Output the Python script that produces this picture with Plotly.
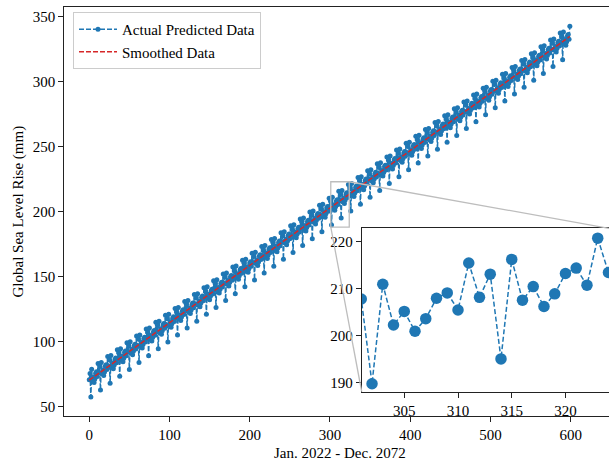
import numpy as np
import plotly.graph_objects as go

# ---------------- data ----------------
x_title = "Jan. 2022 - Dec. 2072"
y_title = "Global Sea Level Rise (mm)"
series_names = ["Actual Predicted Data", "Smoothed Data"]

# yearly mean sea level rise (mm), one value per year, 50 years
year_level = [72.6, 77.9, 83.2, 88.5, 93.8, 99.1, 104.4, 109.7, 115.0, 120.3,
              125.6, 130.9, 136.2, 141.5, 146.8, 152.1, 157.4, 162.7, 168.0, 173.3,
              178.6, 183.9, 189.2, 194.5, 199.8, 205.1, 210.4, 215.7, 221.0, 226.3,
              231.6, 236.9, 242.2, 247.5, 252.8, 258.1, 263.4, 268.7, 274.0, 279.3,
              284.6, 289.9, 295.2, 300.5, 305.8, 311.1, 316.4, 321.7, 327.0, 332.3]
# monthly deviation from the yearly mean (Jan..Dec)
month_offset = [-2.25, 2.7, -15.4, 5.85, -2.85, 0.05, -4.2, -1.5, 2.85, 4.0, 0.35, 10.4]

actual = [lvl + off for lvl in year_level for off in month_offset]
months = list(range(len(actual)))
coef = np.polyfit(months, actual, 1)
smoothed = list(np.polyval(coef, months))

main_xticks = [0, 100, 200, 300, 400, 500, 600]
main_yticks = [50, 100, 150, 200, 250, 300, 350]
inset_xticks = [305, 310, 315, 320]
inset_yticks = [190, 200, 210, 220]

# ---------------- layout geometry ----------------
W, H = 609, 463
FONT = "Liberation Serif"
FS = 15
BLUE = "#1f77b4"
RED = "#d62728"
GRAY = "#bdbdbd"

def px_x(p):
    return p / W

def px_y(p):
    return 1 - p / H

main_dx = [px_x(64.3), 1.0]
main_dy = [px_y(416.3), px_y(6.7)]
main_xr = [-31.1, 647.8]
main_yr = [42.3, 357.7]

ins_dx = [px_x(361.7), 1.0]
ins_dy = [px_y(391.7), px_y(228.3)]
ins_xr = [301.04, 324.05]
ins_yr = [188.0, 222.9]

fig = go.Figure()
fig.add_trace(go.Scatter(
    x=months, y=actual, mode="lines+markers", name=series_names[0],
    line=dict(color=BLUE, width=1.5, dash="5px,2px"),
    marker=dict(color=BLUE, size=5),
    xaxis="x", yaxis="y"))
fig.add_trace(go.Scatter(
    x=months, y=smoothed, mode="lines", name=series_names[1],
    line=dict(color=RED, width=1.5, dash="5px,2px"),
    xaxis="x", yaxis="y"))

lo, hi = int(ins_xr[0]) - 1, int(ins_xr[1]) + 2
fig.add_trace(go.Scatter(
    x=months[lo:hi], y=actual[lo:hi], mode="lines+markers", showlegend=False,
    line=dict(color=BLUE, width=1.5, dash="5px,2.5px"),
    marker=dict(color=BLUE, size=11.5),
    xaxis="x2", yaxis="y2"))

axis_common = dict(
    showgrid=False, zeroline=False, showline=True, linecolor="#222222", linewidth=1,
    ticks="outside", ticklen=5, tickwidth=1, tickcolor="#222222",
    tickfont=dict(family=FONT, size=FS, color="black"),
)

fig.update_layout(
    width=W, height=H,
    margin=dict(l=0, r=0, t=0, b=0),
    paper_bgcolor="white", plot_bgcolor="white",
    font=dict(family=FONT, size=FS, color="black"),
    xaxis=dict(domain=main_dx, range=main_xr, tickvals=main_xticks, mirror=True,
               anchor="y", **axis_common),
    yaxis=dict(domain=main_dy, range=main_yr, tickvals=main_yticks,
               anchor="x", **axis_common),
    xaxis2=dict(domain=ins_dx, range=ins_xr, tickvals=inset_xticks, mirror=True,
                anchor="y2", **axis_common),
    yaxis2=dict(domain=ins_dy, range=ins_yr, tickvals=inset_yticks, mirror=True,
                anchor="x2", **axis_common),
    legend=dict(x=px_x(73), y=px_y(12), xanchor="left", yanchor="top",
                bgcolor="white", bordercolor="#cccccc", borderwidth=1,
                itemwidth=38,
                font=dict(family=FONT, size=FS, color="black")),
    showlegend=True,
)

def main_to_paper(xv, yv):
    px = main_dx[0] + (xv - main_xr[0]) / (main_xr[1] - main_xr[0]) * (main_dx[1] - main_dx[0])
    py = main_dy[0] + (yv - main_yr[0]) / (main_yr[1] - main_yr[0]) * (main_dy[1] - main_dy[0])
    return px, py

# zoom rectangle on the main axes
fig.add_shape(type="rect", xref="x", yref="y",
              x0=ins_xr[0], x1=ins_xr[1], y0=ins_yr[0], y1=ins_yr[1],
              line=dict(color=GRAY, width=1.3))
# connector lines
tr = main_to_paper(ins_xr[1], ins_yr[1])
bl = main_to_paper(ins_xr[0], ins_yr[0])
fig.add_shape(type="line", xref="paper", yref="paper",
              x0=tr[0], y0=tr[1], x1=ins_dx[1], y1=ins_dy[1],
              line=dict(color=GRAY, width=1.3))
fig.add_shape(type="line", xref="paper", yref="paper",
              x0=bl[0], y0=bl[1], x1=ins_dx[0], y1=ins_dy[0],
              line=dict(color=GRAY, width=1.3))

# axis titles
fig.add_annotation(text=x_title, xref="paper", yref="paper",
                   x=px_x(339.5), y=px_y(453.3), showarrow=False,
                   xanchor="center", yanchor="middle",
                   font=dict(family=FONT, size=FS, color="black"))
fig.add_annotation(text=y_title, xref="paper", yref="paper",
                   x=px_x(18), y=px_y(211.5), showarrow=False, textangle=-90,
                   xanchor="center", yanchor="middle",
                   font=dict(family=FONT, size=FS, color="black"))

fig.write_html("out.html")
